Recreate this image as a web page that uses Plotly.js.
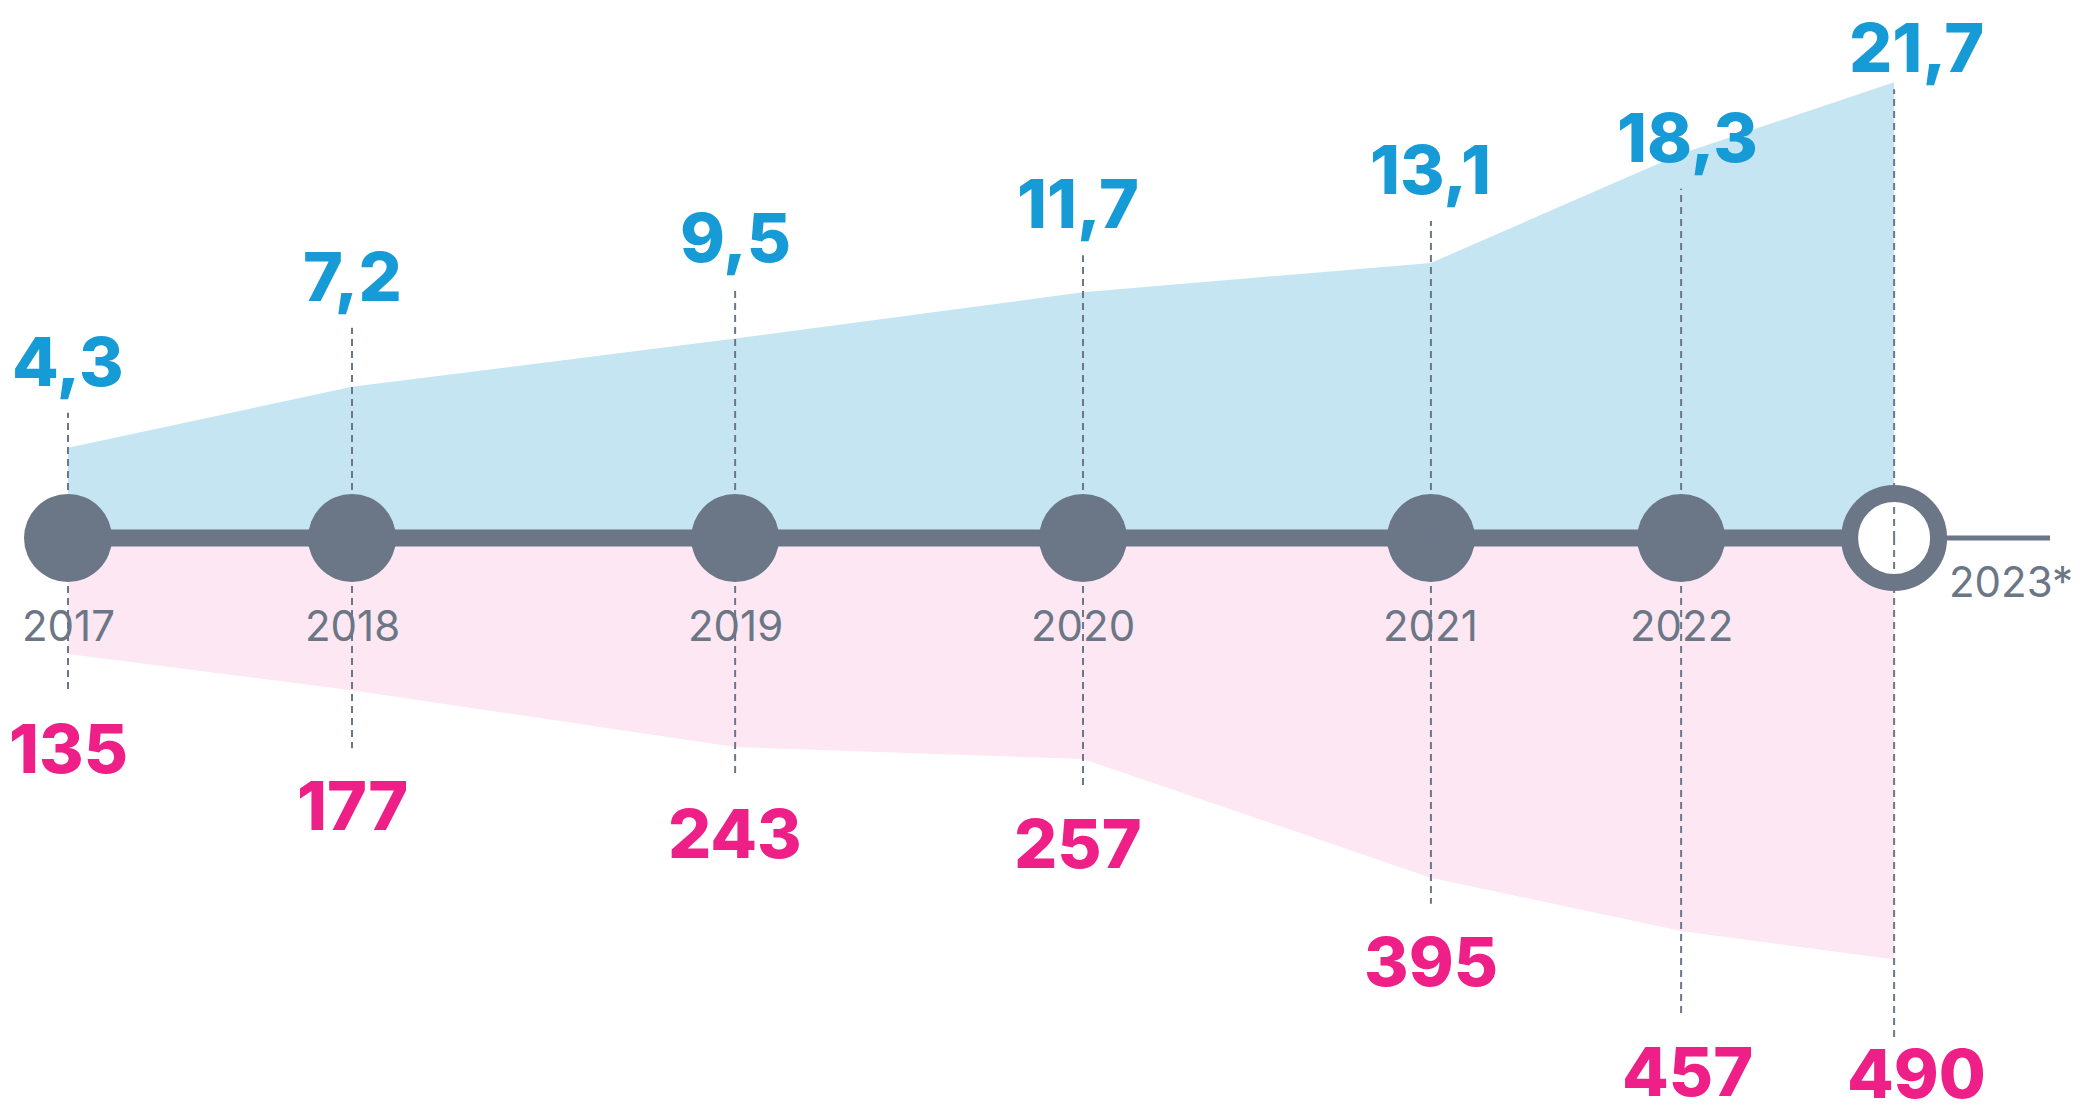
<!DOCTYPE html>
<html>
<head>
<meta charset="utf-8">
<script src="https://cdn.plot.ly/plotly-3.0.1.min.js"></script>
<style>
  html, body { margin: 0; padding: 0; background: #ffffff; }
  #chart { width: 2081px; height: 1120px; }
</style>
</head>
<body>
<div id="chart"></div>
<script>
// ---------------- DATA ----------------
const years = ['2017', '2018', '2019', '2020', '2021', '2022', '2023*'];
const blueValues = [4.3, 7.2, 9.5, 11.7, 13.1, 18.3, 21.7];
const pinkValues = [135, 177, 243, 257, 395, 457, 490];

// ---------------- LAYOUT / STYLE ----------------
const W = 2081, H = 1120;
const baselinePx = 538;            // pixel height of the timeline
const pxPerSlot = 284;             // timeline unit
const firstSlotPx = 68;
const slot = [0, 1, 2.349, 3.574, 4.799, 5.680, 6.430];   // relative spacing of the years on the timeline
const tailEnd = (2050 - firstSlotPx) / pxPerSlot;
const kBlue = 21;     // px per unit (upper series)
const kPink = 0.86;   // px per unit (lower series)
const blueLift = [35, 59, 50, 37, 42, -35, -7];   // leader line extension beyond the area (px)
const pinkDrop = [37, 58, 29, 27, 26, 83, 78];
const labelGapUp = 52, labelGapDown = 57;
const labelNudgeX = [0, 0, 0, -5, 0, 6, 22];
const edgeMargin = 47;  // keep label boxes inside the picture

const GREY = '#6b7787';
const BLUE = '#179bd7';
const BLUE_FILL = '#c5e5f3';
const PINK = '#ee1f86';
const PINK_FILL = '#fde7f2';
const NUM_FONT = 'Inter, "Open Sans", "DejaVu Sans", sans-serif';

const fmt = v => v.toFixed(1).replace('.', ',');

const lastI = years.length - 1;
const traces = [];

// upper area
traces.push({
  x: slot, y: blueValues, yaxis: 'y', type: 'scatter', mode: 'lines',
  line: { width: 0, color: BLUE_FILL }, fill: 'tozeroy', fillcolor: BLUE_FILL,
  hoverinfo: 'skip', showlegend: false
});
// lower area
traces.push({
  x: slot, y: pinkValues, yaxis: 'y2', type: 'scatter', mode: 'lines',
  line: { width: 0, color: PINK_FILL }, fill: 'tozeroy', fillcolor: PINK_FILL,
  hoverinfo: 'skip', showlegend: false
});
// thin tail of the timeline
traces.push({
  x: [slot[lastI], tailEnd], y: [0, 0], yaxis: 'y3', type: 'scatter', mode: 'lines',
  line: { width: 5, color: GREY }, hoverinfo: 'skip', showlegend: false
});
// main timeline
traces.push({
  x: [slot[0], slot[lastI]], y: [0, 0], yaxis: 'y3', type: 'scatter', mode: 'lines',
  line: { width: 17, color: GREY }, hoverinfo: 'skip', showlegend: false
});
// year dots
traces.push({
  x: slot.slice(0, lastI), y: slot.slice(0, lastI).map(() => 0), yaxis: 'y3',
  type: 'scatter', mode: 'markers',
  marker: { size: 88, color: GREY, line: { width: 0 } },
  hoverinfo: 'skip', showlegend: false, cliponaxis: false
});
traces.push({
  x: [slot[lastI]], y: [0], yaxis: 'y3', type: 'scatter', mode: 'markers',
  marker: { size: 89, color: '#ffffff', line: { width: 17, color: GREY } },
  hoverinfo: 'skip', showlegend: false, cliponaxis: false
});
// leader lines
const upX = [], upY = [], dnX = [], dnY = [];
years.forEach((_, i) => {
  upX.push(slot[i], slot[i], null);
  upY.push(0, blueValues[i] + blueLift[i] / kBlue, null);
  dnX.push(slot[i], slot[i], null);
  dnY.push(0, pinkValues[i] + pinkDrop[i] / kPink, null);
});
traces.push({
  x: upX, y: upY, yaxis: 'y4', type: 'scatter', mode: 'lines', connectgaps: false,
  line: { width: 2, color: GREY, dash: '7px,5px' }, hoverinfo: 'skip', showlegend: false
});
traces.push({
  x: dnX, y: dnY, yaxis: 'y5', type: 'scatter', mode: 'lines', connectgaps: false,
  line: { width: 2, color: GREY, dash: '7px,5px' }, hoverinfo: 'skip', showlegend: false
});

// annotations
const annotations = [];
const maxUp = baselinePx - edgeMargin;
const maxDown = H - baselinePx - edgeMargin;
years.forEach((yr, i) => {
  const upPx = Math.min(blueValues[i] * kBlue + blueLift[i] + labelGapUp, maxUp) - blueValues[i] * kBlue;
  const dnPx = Math.min(pinkValues[i] * kPink + pinkDrop[i] + labelGapDown, maxDown) - pinkValues[i] * kPink;
  annotations.push({
    x: slot[i], y: blueValues[i], xref: 'x', yref: 'y',
    yshift: upPx, xshift: labelNudgeX[i],
    xanchor: 'center', yanchor: 'middle',
    text: fmt(blueValues[i]), showarrow: false,
    font: { family: NUM_FONT, size: 68, color: BLUE, weight: 800 }
  });
  annotations.push({
    x: slot[i], y: pinkValues[i], xref: 'x', yref: 'y2',
    yshift: -dnPx, xshift: labelNudgeX[i],
    xanchor: 'center', yanchor: 'middle',
    text: String(pinkValues[i]), showarrow: false,
    font: { family: NUM_FONT, size: 68, color: PINK, weight: 800 }
  });
  if (i < lastI) {
    annotations.push({
      x: slot[i], y: 0, xref: 'x', yref: 'y', yshift: -87,
      xanchor: 'center', yanchor: 'middle', text: yr, showarrow: false,
      font: { family: NUM_FONT, size: 42, color: GREY, weight: 400 }
    });
  } else {
    annotations.push({
      x: slot[i], y: 0, xref: 'x', yref: 'y', yshift: -43, xshift: 53,
      xanchor: 'left', yanchor: 'middle', text: yr, showarrow: false,
      font: { family: NUM_FONT, size: 42, color: GREY, weight: 400 }
    });
  }
});

const blueRange = [-(H - baselinePx) / kBlue, baselinePx / kBlue];
const pinkRange = [(H - baselinePx) / kPink, -baselinePx / kPink];

const layout = {
  width: W, height: H,
  margin: { l: 0, r: 0, t: 0, b: 0, pad: 0 },
  paper_bgcolor: '#ffffff', plot_bgcolor: '#ffffff',
  showlegend: false,
  xaxis: {
    range: [-firstSlotPx / pxPerSlot, (W - firstSlotPx) / pxPerSlot],
    visible: false, fixedrange: true
  },
  yaxis: { range: blueRange, visible: false, fixedrange: true },
  yaxis2: { overlaying: 'y', range: pinkRange, visible: false, fixedrange: true },
  yaxis3: { overlaying: 'y', range: blueRange, visible: false, fixedrange: true },
  yaxis4: { overlaying: 'y', range: blueRange, visible: false, fixedrange: true },
  yaxis5: { overlaying: 'y', range: pinkRange, visible: false, fixedrange: true },
  annotations: annotations
};

Plotly.newPlot('chart', traces, layout, { staticPlot: true, displayModeBar: false });
</script>
</body>
</html>
